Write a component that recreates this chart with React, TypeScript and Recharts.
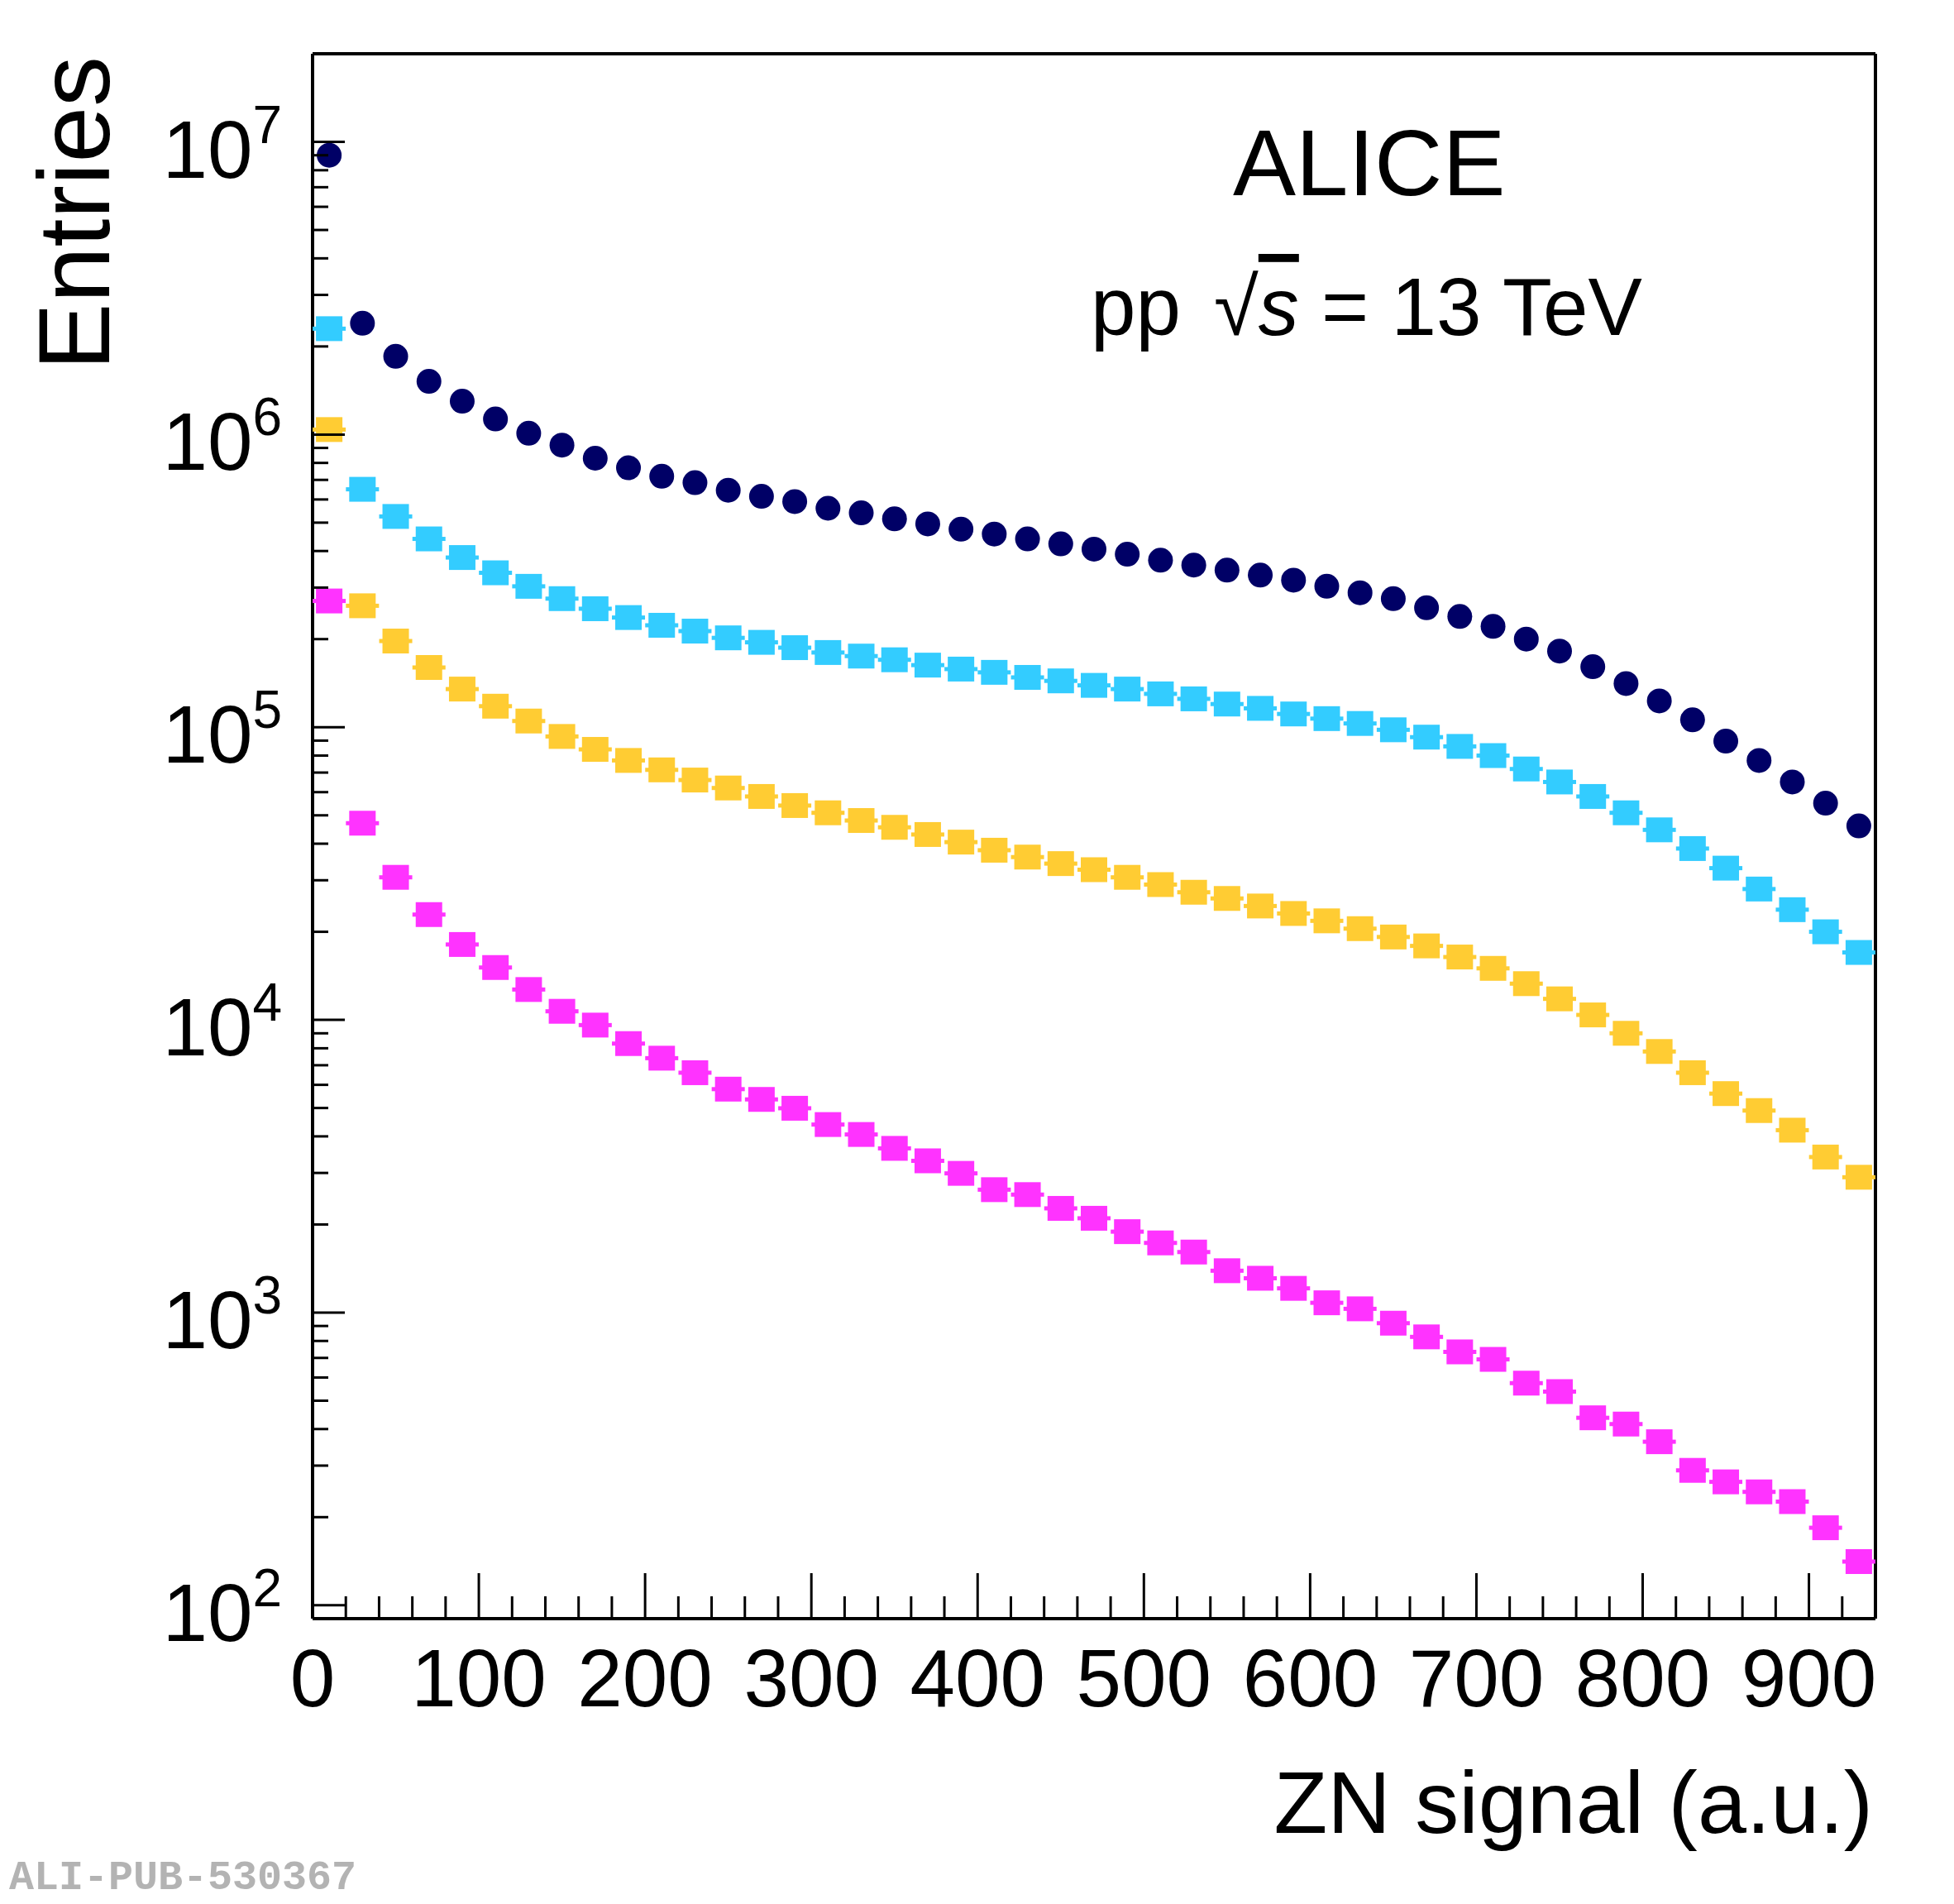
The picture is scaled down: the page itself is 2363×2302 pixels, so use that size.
import React from 'react'
import { ScatterChart, Scatter, XAxis, YAxis } from 'recharts'

// bin centres of the ZN signal histogram (bin width 20)
const binCentres = [
  10, 30, 50, 70, 90, 110, 130, 150, 170, 190, 210, 230, 250, 270, 290, 310, 330, 350, 370, 390,
  410, 430, 450, 470, 490, 510, 530, 550, 570, 590, 610, 630, 650, 670, 690, 710, 730, 750, 770,
  790, 810, 830, 850, 870, 890, 910, 930,
]

const navyValues = [
  9.0e6, 2.4e6, 1.85e6, 1.52e6, 1.3e6, 1.13e6, 1.01e6, 9.2e5, 8.3e5, 7.7e5, 7.2e5, 6.85e5, 6.45e5,
  6.15e5, 5.9e5, 5.6e5, 5.4e5, 5.15e5, 4.95e5, 4.75e5, 4.57e5, 4.4e5, 4.23e5, 4.06e5, 3.9e5,
  3.72e5, 3.58e5, 3.44e5, 3.31e5, 3.18e5, 3.03e5, 2.88e5, 2.75e5, 2.56e5, 2.39e5, 2.21e5, 2.0e5,
  1.82e5, 1.61e5, 1.41e5, 1.23e5, 1.06e5, 8.96e4, 7.7e4, 6.5e4, 5.5e4, 4.6e4,
]

const cyanValues = [
  2.3e6, 6.5e5, 5.25e5, 4.4e5, 3.8e5, 3.37e5, 3.03e5, 2.75e5, 2.54e5, 2.37e5, 2.23e5, 2.13e5,
  2.02e5, 1.95e5, 1.87e5, 1.8e5, 1.75e5, 1.7e5, 1.63e5, 1.58e5, 1.54e5, 1.48e5, 1.44e5, 1.39e5,
  1.35e5, 1.3e5, 1.25e5, 1.2e5, 1.16e5, 1.11e5, 1.07e5, 1.03e5, 9.8e4, 9.25e4, 8.6e4, 8.0e4,
  7.2e4, 6.5e4, 5.8e4, 5.1e4, 4.46e4, 3.85e4, 3.3e4, 2.8e4, 2.38e4, 2.0e4, 1.7e4,
]

const yellowValues = [
  1.04e6, 2.6e5, 1.97e5, 1.6e5, 1.35e5, 1.18e5, 1.05e5, 9.3e4, 8.4e4, 7.7e4, 7.15e4, 6.6e4, 6.2e4,
  5.8e4, 5.4e4, 5.1e4, 4.8e4, 4.55e4, 4.3e4, 4.05e4, 3.8e4, 3.6e4, 3.42e4, 3.26e4, 3.07e4, 2.9e4,
  2.73e4, 2.6e4, 2.45e4, 2.31e4, 2.18e4, 2.05e4, 1.92e4, 1.79e4, 1.64e4, 1.5e4, 1.33e4, 1.18e4,
  1.04e4, 9.0e3, 7.8e3, 6.6e3, 5.6e3, 4.9e3, 4.2e3, 3.4e3, 2.9e3,
]

const magentaValues = [
  2.7e5, 4.7e4, 3.07e4, 2.29e4, 1.81e4, 1.51e4, 1.27e4, 1.07e4, 9.6e3, 8.3e3, 7.4e3, 6.6e3, 5.8e3,
  5.35e3, 4.99e3, 4.39e3, 4.06e3, 3.64e3, 3.3e3, 2.99e3, 2.63e3, 2.53e3, 2.27e3, 2.1e3, 1.89e3,
  1.73e3, 1.61e3, 1.39e3, 1.31e3, 1.21e3, 1.08e3, 1.03e3, 920, 826, 734, 692, 574, 537, 437, 416,
  362, 289, 264, 244, 226, 184, 141,
]

const xMajorTicks = [0, 100, 200, 300, 400, 500, 600, 700, 800, 900]
const xTicks = Array.from({ length: 48 }, (_, i) => i * 20).filter((v) => v <= 940)
const yMajorExps = [2, 3, 4, 5, 6, 7]
const yTicks: number[] = []
for (let e = 1; e <= 7; e++) {
  for (let m = 1; m <= 9; m++) {
    const v = m * Math.pow(10, e)
    if (v >= 90 && v <= 2.0e7) yTicks.push(v)
  }
}

const toPoints = (ys: number[]) => binCentres.map((x, i) => ({ x, y: ys[i] }))

const FONT = '"Liberation Sans", Arial, sans-serif'

const XTick = ({ x, y, payload }: any) => {
  const major = xMajorTicks.includes(payload.value)
  return (
    <g>
      <line x1={x} x2={x} y1={y} y2={y - (major ? 55 : 27)} stroke="#000" strokeWidth={3} />
      {major && (
        <text x={x} y={y + 106} textAnchor="middle" fontSize={98} fontFamily={FONT} fill="#000">
          {payload.value}
        </text>
      )}
    </g>
  )
}

const YTick = ({ x, y, payload }: any) => {
  const exp = Math.round(Math.log10(payload.value))
  const major = Math.abs(payload.value - Math.pow(10, exp)) < 1e-6 && yMajorExps.includes(exp)
  return (
    <g>
      <line x1={x} x2={x + (major ? 39 : 19)} y1={y} y2={y} stroke="#000" strokeWidth={3} />
      {major && (
        <text x={x - 37} y={y + 43} textAnchor="end" fontSize={98} fontFamily={FONT} fill="#000">
          10
          <tspan dy={-42} fontSize={64}>
            {exp}
          </tspan>
        </text>
      )}
    </g>
  )
}

const Circle = (color: string) => (p: any) => <circle cx={p.cx} cy={p.cy} r={15} fill={color} />

const Square = (color: string) => (p: any) => (
  <g>
    <rect x={p.cx - 20} y={p.cy - 2.5} width={40} height={5} fill={color} />
    <rect x={p.cx - 16} y={p.cy - 15} width={32} height={30} fill={color} />
  </g>
)

const frame = { stroke: '#000', strokeWidth: 4 }

export default function App() {
  return (
    <div style={{ position: 'absolute', left: 0, top: 0, width: 2363, height: 2302, background: '#fff' }}>
      <ScatterChart width={2363} height={2302} margin={{ top: 64, right: 94, bottom: 344, left: 377 }}>
        <XAxis
          xAxisId="b"
          type="number"
          dataKey="x"
          domain={[0, 940]}
          ticks={xTicks}
          interval={0}
          height={1}
          tickSize={0}
          tickMargin={0}
          tick={<XTick />}
          tickLine={false}
          axisLine={frame}
          allowDataOverflow
        />
        <XAxis
          xAxisId="t"
          orientation="top"
          type="number"
          domain={[0, 940]}
          tick={false}
          tickLine={false}
          height={1}
          axisLine={frame}
        />
        <YAxis
          yAxisId="l"
          type="number"
          dataKey="y"
          scale="log"
          domain={[90, 2.0e7]}
          ticks={yTicks}
          interval={0}
          width={1}
          tickSize={0}
          tickMargin={0}
          tick={<YTick />}
          tickLine={false}
          axisLine={frame}
          allowDataOverflow
        />
        <YAxis
          yAxisId="r"
          orientation="right"
          type="number"
          domain={[0, 1]}
          tick={false}
          tickLine={false}
          width={1}
          axisLine={frame}
        />
        <Scatter xAxisId="b" yAxisId="l" data={toPoints(magentaValues)} shape={Square('#ff33ff')} isAnimationActive={false} />
        <Scatter xAxisId="b" yAxisId="l" data={toPoints(yellowValues)} shape={Square('#ffcc33')} isAnimationActive={false} />
        <Scatter xAxisId="b" yAxisId="l" data={toPoints(cyanValues)} shape={Square('#33ccff')} isAnimationActive={false} />
        <Scatter xAxisId="b" yAxisId="l" data={toPoints(navyValues)} shape={Circle('#000066')} isAnimationActive={false} />
      </ScatterChart>
      <svg width={2363} height={2302} style={{ position: 'absolute', left: 0, top: 0, pointerEvents: 'none' }}>
        <text x={132} y={68} transform="rotate(-90 132 68)" textAnchor="end" fontSize={122} fontFamily={FONT}>
          Entries
        </text>
        <text x={2265} y={2216} textAnchor="end" fontSize={106} fontFamily={FONT}>
          ZN signal (a.u.)
        </text>
        <text x={1491} y={236} fontSize={114} fontFamily={FONT}>
          ALICE
        </text>
        <text x={1319} y={405} fontSize={98} fontFamily={FONT}>
          pp
          <tspan dx={40}>√</tspan>
          <tspan fontStyle="italic" textDecoration="overline">s</tspan> = 13 TeV
        </text>
        <text x={11} y={2284} fontSize={50} fontWeight="bold" fontFamily='"Liberation Mono", monospace' fill="#b3b3b3">
          ALI-PUB-530367
        </text>
      </svg>
    </div>
  )
}
